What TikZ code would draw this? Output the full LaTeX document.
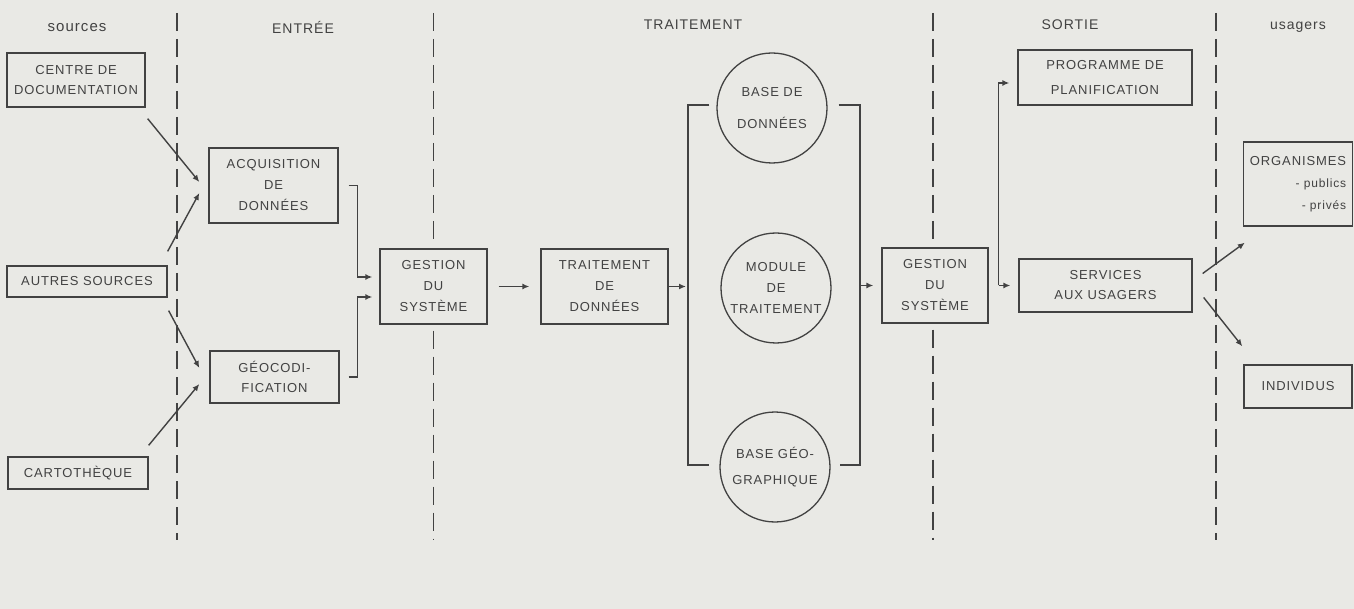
\documentclass[tikz,border=0pt]{standalone}
\usepackage{fontspec}
\setmainfont{Liberation Sans}[LetterSpace=7]
\usetikzlibrary{arrows.meta}
\definecolor{bg}{RGB}{233,233,229}
\definecolor{ink}{RGB}{66,66,66}
\begin{document}
\begin{tikzpicture}[x=1pt,y=-1pt,
  every node/.style={text=ink},
  box/.style={draw=ink, line width=1.3pt, fill=bg, rectangle, inner sep=0pt, align=center, font=\fontsize{13}{21}\selectfont},
  circ/.style={draw=ink, line width=1.3pt, fill=bg, circle, inner sep=0pt, minimum size=110pt, align=center, font=\fontsize{13}{21}\selectfont},
  arr/.style={draw=ink, line width=1.4pt, -{Latex[length=7pt,width=6pt]}},
  conn/.style={draw=ink, line width=1.4pt},
  dashln/.style={draw=ink, line width=1.3pt, dash pattern=on 18pt off 8pt},
  head/.style={font=\fontsize{14}{16}\selectfont}]
\fill[bg] (0,0) rectangle (1354,609);
\useasboundingbox (0,0) rectangle (1354,609);
\coordinate (top) at (0,13);
\coordinate (bot) at (0,540);

% headers
\node[head, font=\fontsize{15}{16}\selectfont] (hs) at (77,28) {sources};
\node[head] (he) at (303,27) {ENTRÉE};
\node[head] (ht) at (693,25) {TRAITEMENT};
\node[head] (hso) at (1070,25) {SORTIE};
\node[head] (hu) at (1298,27) {usagers};

% separators
\draw[dashln] (177,13) -- (177,540);
\draw[dashln] (1216,13) -- (1216,540);

% sources
\node[box, minimum width=138pt, minimum height=54pt, font=\fontsize{13}{20}\selectfont] (centre) at (76,80) {CENTRE DE\\DOCUMENTATION};
\node[box, minimum width=160pt, minimum height=31pt] (autres) at (87,281.5) {AUTRES SOURCES};
\node[box, minimum width=140pt, minimum height=32pt] (carto) at (78,473) {CARTOTHÈQUE};

% entree
\node[box, minimum width=129pt, minimum height=75pt] (acq) at (273.5,185.5) {ACQUISITION\\DE\\DONNÉES};
\node[box, minimum width=129pt, minimum height=52pt, font=\fontsize{13}{20}\selectfont] (geo) at (274.5,377) {GÉOCODI-\\FICATION};
\node[box, minimum width=107pt, minimum height=75pt] (gest1) at (433.5,286.5) {GESTION\\DU\\SYSTÈME};

% traitement
\node[box, minimum width=127pt, minimum height=75pt] (trait) at (604.5,286.5) {TRAITEMENT\\DE\\DONNÉES};
\node[circ, font=\fontsize{13}{32}\selectfont] (bdd) at (772,108) {BASE DE\\DONNÉES};
\node[circ] (mod) at (776,288) {MODULE\\DE\\TRAITEMENT};
\node[circ, font=\fontsize{13}{26}\selectfont] (geoc) at (775,467) {BASE GÉO-\\GRAPHIQUE};
\node[box, minimum width=106pt, minimum height=75pt] (gest2) at (935,285.5) {GESTION\\DU\\SYSTÈME};

% sortie
\node[box, minimum width=174pt, minimum height=55pt, font=\fontsize{13}{25}\selectfont] (prog) at (1105,77.5) {PROGRAMME DE\\PLANIFICATION};
\node[box, minimum width=173pt, minimum height=53pt, font=\fontsize{13}{20}\selectfont] (serv) at (1105.5,285.5) {SERVICES\\AUX USAGERS};

% usagers
\node[box, minimum width=109pt, minimum height=84pt, align=right, font=\fontsize{13}{22}\selectfont] (org) at (1298,184) {ORGANISMES\\{\fontsize{12}{22}\selectfont - publics}\\{\fontsize{12}{22}\selectfont - privés}};
\node[box, minimum width=108pt, minimum height=43pt] (ind) at (1298,386.5) {INDIVIDUS};

% dashed separators interrupted by the boxes
\draw[dashln] (gest1.north |- top) -- ([shift={(0,-6)}]gest1.north);
\draw[dashln] ([shift={(0,6)}]gest1.south) -- (gest1.south |- bot);
\draw[dashln] ([xshift=-2]gest2.north |- top) -- ([shift={(-2,-6)}]gest2.north);
\draw[dashln] ([shift={(-2,6)}]gest2.south) -- ([xshift=-2]gest2.south |- bot);

% connectors: sources -> entree
\draw[arr] ([shift={(2,11)}]centre.south east) -- ([shift={(-9,-3.5)}]acq.west);
\draw[arr] ([shift={(0,-14)}]autres.north east) -- ([shift={(-9,7.5)}]acq.west);
\draw[arr] ([shift={(1,13)}]autres.south east) -- ([shift={(-10,-9)}]geo.west);
\draw[arr] ([shift={(0,-11)}]carto.north east) -- ([shift={(-10,7)}]geo.west);

% entree -> gestion
\draw[arr] ([xshift=10]acq.east) -| ([shift={(-22,-9.5)}]gest1.west) -- ([shift={(-7,-9.5)}]gest1.west);
\draw[arr] ([xshift=9]geo.east) -| ([shift={(-22,10.5)}]gest1.west) -- ([shift={(-7,10.5)}]gest1.west);
\draw[arr] ([xshift=11]gest1.east) -- ([xshift=-11]trait.west);

% traitement bracket
\coordinate (bl1) at (688,105);
\coordinate (bl2) at (688,465);
\coordinate (br1) at (860,105);
\coordinate (br2) at (860,465);
\draw[conn] ([shift={(-7,-3)}]bdd.west) -- (bl1) -- (bl2) -- ([shift={(-10,-2)}]geoc.west);
\draw[conn] ([shift={(11,-3)}]bdd.east) -- (br1) -- (br2) -- ([shift={(9,-2)}]geoc.east);
\draw[arr, shorten >=2pt] (trait.east) -- (trait.east -| bl1);
\draw[arr] (br1 |- gest2.west) -- ([xshift=-8]gest2.west);

% sortie
\draw[arr] ([xshift=10]gest2.east) |- ([shift={(-8,5.5)}]prog.west);
\draw[arr] ([xshift=10]gest2.east) -- ([xshift=-8]serv.west);

% usagers
\draw[arr] ([shift={(10,-12)}]serv.east) -- ([shift={(2,16)}]org.south west);
\draw[arr] ([shift={(11,12)}]serv.east) -- ([shift={(-1,-18)}]ind.north west);
\end{tikzpicture}
\end{document}
